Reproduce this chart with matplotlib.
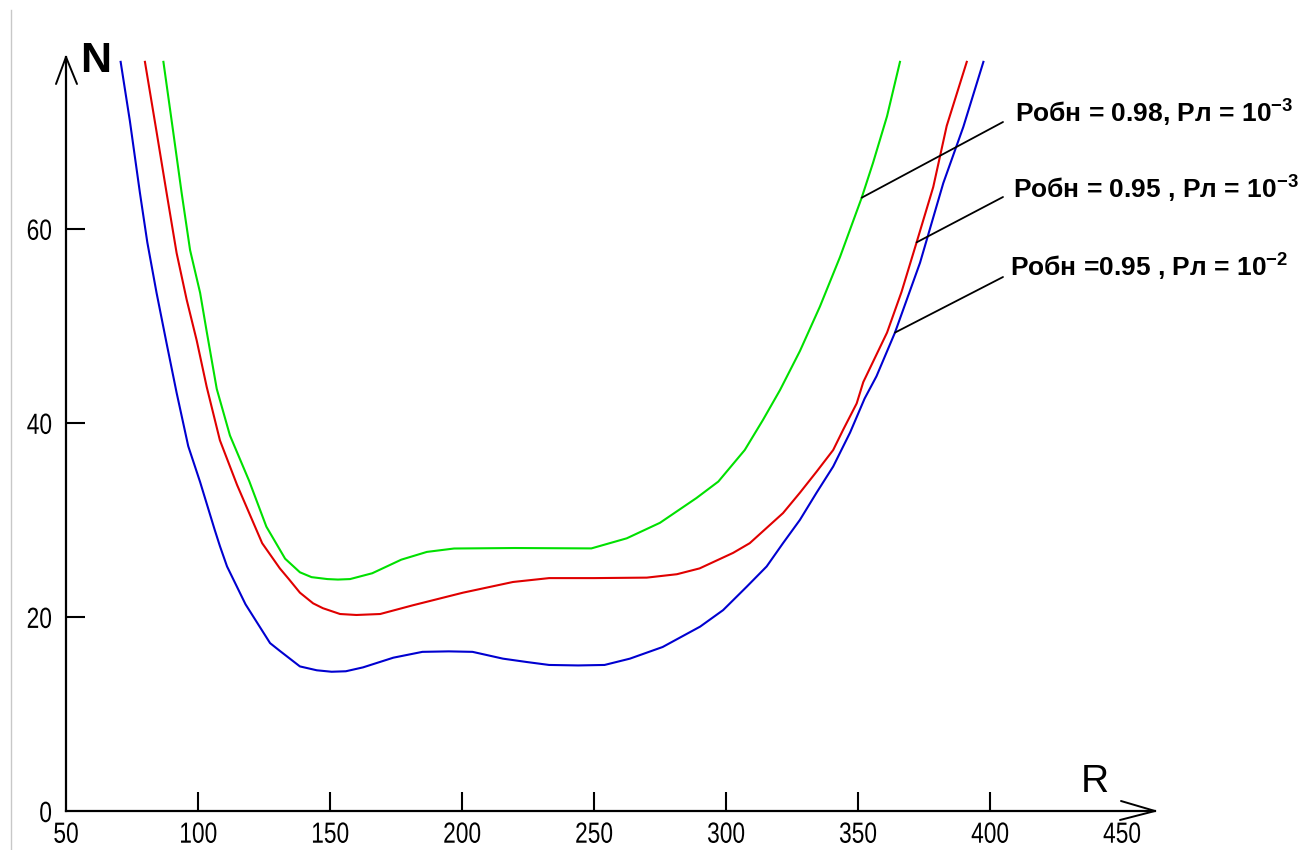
import matplotlib
matplotlib.use("Agg")
import matplotlib.pyplot as plt
from matplotlib import font_manager
from matplotlib.lines import Line2D
from matplotlib.patheffects import AbstractPathEffect
from matplotlib.transforms import Affine2D

# ---------------- data ----------------
r_blue = [70.7, 74.2, 78.0, 80.8, 84.3, 88.1, 91.9, 96.3, 100.8, 106.3, 108.3, 111.0, 118.0,
          127.3, 131.0, 138.6, 145.0, 150.6, 156.0, 162.5, 174.0, 185.0, 195.0, 204.0, 215.5,
          224.6, 233.0, 244.0, 254.0, 263.6, 276.0, 290.2, 298.9, 307.8, 315.4, 321.6, 328.0,
          334.3, 340.6, 347.0, 352.5, 357.0, 364.0, 373.5, 382.3, 389.9, 397.5]
n_blue = [77.2, 71.1, 63.7, 58.6, 53.4, 48.2, 43.1, 37.6, 33.9, 29.0, 27.3, 25.2, 21.3,
          17.3, 16.5, 14.9, 14.5, 14.35, 14.4, 14.8, 15.8, 16.4, 16.45, 16.4, 15.7,
          15.35, 15.05, 15.0, 15.05, 15.7, 16.9, 19.0, 20.7, 23.1, 25.2, 27.6, 30.0,
          32.8, 35.5, 39.0, 42.5, 44.8, 49.3, 56.5, 64.7, 70.5, 77.2]

r_red = [79.9, 84.3, 88.1, 91.9, 95.7, 99.5, 103.3, 108.3, 114.8, 124.3, 131.0, 134.4, 138.6,
         143.6, 147.3, 153.8, 160.0, 169.0, 181.4, 200.4, 219.3, 233.0, 250.0, 270.0, 281.4,
         290.0, 302.7, 309.0, 321.6, 328.0, 334.4, 340.6, 344.4, 349.5, 352.0, 361.0, 366.5,
         372.2, 378.5, 383.6, 391.2]
n_red = [77.2, 70.0, 63.7, 57.5, 52.7, 48.5, 43.7, 38.2, 33.6, 27.6, 25.0, 23.9, 22.5,
         21.4, 20.9, 20.3, 20.2, 20.3, 21.2, 22.5, 23.6, 24.0, 24.0, 24.05, 24.4,
         25.0, 26.6, 27.6, 30.7, 32.8, 35.0, 37.2, 39.3, 42.0, 44.2, 49.3, 53.5,
         58.6, 64.3, 70.6, 77.2]

r_green = [86.9, 90.6, 93.8, 97.0, 100.8, 103.3, 107.1, 112.1, 119.4, 125.9, 133.0, 138.6,
           143.0, 149.0, 153.0, 157.6, 166.0, 177.0, 186.7, 197.0, 220.0, 249.0, 262.4,
           275.0, 288.8, 297.1, 307.1, 314.0, 320.5, 328.0, 335.6, 343.2, 351.4, 355.7,
           361.0, 365.9]
n_green = [77.2, 70.0, 63.7, 57.8, 53.4, 49.4, 43.5, 38.7, 34.0, 29.3, 26.0, 24.6,
           24.1, 23.9, 23.85, 23.9, 24.5, 25.9, 26.7, 27.05, 27.1, 27.06, 28.1,
           29.7, 32.25, 33.95, 37.2, 40.3, 43.4, 47.4, 52.0, 57.1, 63.2, 66.8,
           71.6, 77.2]

series_labels = ["Робн = 0.98, Рл = 10$^{-3}$",
                 "Робн = 0.95 , Рл = 10$^{-3}$",
                 "Робн =0.95 , Рл = 10$^{-2}$"]
# points on the curves where the leader lines start (green, red, blue)
anchor_r = [351.4, 372.2, 364.0]
anchor_n = [63.2, 58.6, 49.3]

x_ticks = [50, 100, 150, 200, 250, 300, 350, 400, 450]
y_ticks = [0, 20, 40, 60]

# ---------------- fonts ----------------
avail = {f.name for f in font_manager.fontManager.ttflist}
def pick(*names):
    for n in names:
        if n in avail:
            return n
    return "DejaVu Sans"
lab_font = pick("Liberation Sans", "Arial", "DejaVu Sans")


class Narrow(AbstractPathEffect):
    """Horizontally condense glyph outlines (narrow tick font look)."""
    def __init__(self, sx=0.76, anchor='center'):
        super().__init__()
        self.sx = sx
        self.anchor = anchor

    def draw_path(self, renderer, gc, tpath, affine, rgbFace=None):
        ext = tpath.get_extents()
        if self.anchor == 'right':
            cx = ext.x1
        else:
            cx = 0.5 * (ext.x0 + ext.x1)
        t = Affine2D().translate(-cx, 0).scale(self.sx, 1).translate(cx, 0) + affine
        renderer.draw_path(gc, tpath, t, rgbFace)


plt.rcParams['mathtext.fontset'] = 'custom'
plt.rcParams['mathtext.rm'] = lab_font + ':bold'
plt.rcParams['mathtext.bf'] = lab_font + ':bold'
plt.rcParams['mathtext.it'] = lab_font + ':bold'
plt.rcParams['mathtext.default'] = 'rm'

W, H = 1303, 850
fig = plt.figure(figsize=(W / 100, H / 100), dpi=100)
fig.patch.set_facecolor('white')

x0, x1 = 50, 462.5
y0, y1 = 0, 77.7
ax = fig.add_axes([66 / W, (H - 811) / H, (1155 - 66) / W, (811 - 57) / H])
ax.set_xlim(x0, x1)
ax.set_ylim(y0, y1)

lw = 1.5
ax.plot(r_blue, n_blue, color='#0000d0', lw=lw, clip_on=False)
ax.plot(r_red, n_red, color='#e00000', lw=lw, clip_on=False)
ax.plot(r_green, n_green, color='#00e000', lw=lw, clip_on=False)

for s in ['top', 'right']:
    ax.spines[s].set_visible(False)
for s in ['left', 'bottom']:
    ax.spines[s].set_linewidth(1.6)
    ax.spines[s].set_color('black')

ax.set_xticks(x_ticks)
ax.set_yticks(y_ticks)
ax.set_xticklabels([str(v) for v in x_ticks])
ax.set_yticklabels([str(v) for v in y_ticks])
ax.tick_params(axis='both', direction='in', length=14, width=1.5, colors='black',
               labelsize=21)
ax.tick_params(axis='x', pad=7)
ax.tick_params(axis='y', pad=10)
for lab in ax.get_xticklabels():
    lab.set_fontfamily(lab_font)
    lab.set_path_effects([Narrow(0.78, 'center')])
for lab in ax.get_yticklabels():
    lab.set_fontfamily(lab_font)
    lab.set_path_effects([Narrow(0.78, 'right')])
xt = ax.xaxis.get_major_ticks()
xt[0].tick1line.set_visible(False)
xt[-1].tick1line.set_visible(False)
ax.yaxis.get_major_ticks()[0].tick1line.set_visible(False)

# axis arrow heads
arm = dict(arrowstyle='-', lw=1.4, color='black', shrinkA=0, shrinkB=0)
ax.annotate('', xy=(0, 1), xycoords='axes fraction', xytext=(-10, -27),
            textcoords='offset pixels', arrowprops=arm, annotation_clip=False)
ax.annotate('', xy=(0, 1), xycoords='axes fraction', xytext=(11, -27),
            textcoords='offset pixels', arrowprops=arm, annotation_clip=False)
ax.annotate('', xy=(1, 0), xycoords='axes fraction', xytext=(-34, 10),
            textcoords='offset pixels', arrowprops=arm, annotation_clip=False)
ax.annotate('', xy=(1, 0), xycoords='axes fraction', xytext=(-35, -9),
            textcoords='offset pixels', arrowprops=arm, annotation_clip=False)

# axis names
fig.text(80 / W, (H - 72) / H, 'N', fontsize=31, fontweight='bold',
         family=lab_font, ha='left', va='baseline')
fig.text(1081 / W, (H - 792) / H, 'R', fontsize=28, family=lab_font,
         ha='left', va='baseline')

# leader lines + labels
end_px = [(1003, 122), (1003, 197), (1003, 277)]
txt_px = [(1015, 123), (1013, 199), (1010, 277)]
for i in range(3):
    ex = x0 + (end_px[i][0] - 66) / (1155 - 66) * (x1 - x0)
    ey = (811 - end_px[i][1]) / (811 - 57) * (y1 - y0)
    ax.annotate('', xy=(anchor_r[i], anchor_n[i]), xytext=(ex, ey),
                arrowprops=dict(arrowstyle='-', lw=1.3, color='black',
                                shrinkA=0, shrinkB=0), annotation_clip=False)
    fig.text(txt_px[i][0] / W, (H - txt_px[i][1]) / H, series_labels[i],
             fontsize=19, fontweight='bold', family=lab_font,
             ha='left', va='baseline')

# left border line of the original picture
fig.add_artist(Line2D([10.5 / W, 10.5 / W], [0, (H - 10) / H], color='#c8c8c8', lw=1))

fig.savefig('out.png', dpi=100, facecolor='white')
